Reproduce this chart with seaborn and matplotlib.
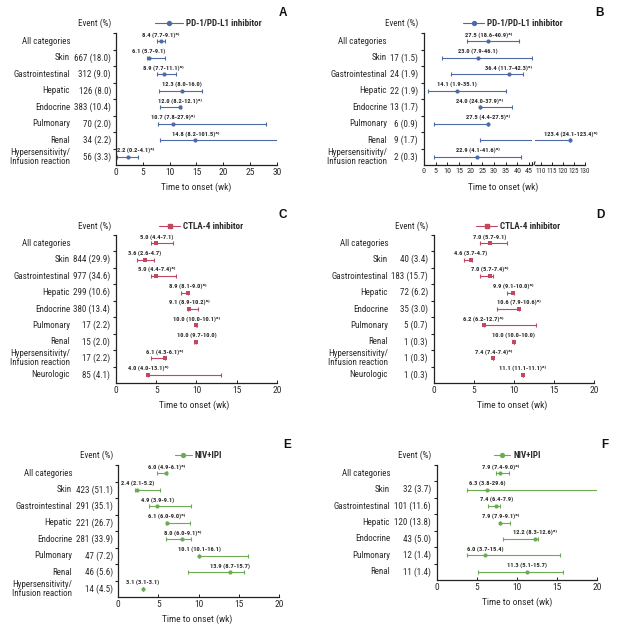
import numpy as np
import pandas as pd
import matplotlib.pyplot as plt
import seaborn as sns
from matplotlib.lines import Line2D
from matplotlib import font_manager

sns.set_theme(style='ticks')

# pick a narrow font if one is there, else shrink a normal one
names = {f.name: f for f in font_manager.fontManager.ttflist}
cond = [f for f in font_manager.fontManager.ttflist
        if f.name == 'DejaVu Sans' and 'condensed' in str(f.stretch)]
if 'Liberation Sans Narrow' in names:
    FAM, SC, STRETCH = 'Liberation Sans Narrow', 1.0, 'normal'
elif 'Roboto Condensed' in names:
    FAM, SC, STRETCH = 'Roboto Condensed', 0.95, 'normal'
elif cond:
    FAM, SC, STRETCH = 'DejaVu Sans', 0.85, 'condensed'
else:
    FAM, SC, STRETCH = 'Liberation Sans', 0.84, 'normal'
plt.rcParams['font.family'] = [FAM, 'DejaVu Sans']
plt.rcParams['font.stretch'] = STRETCH

W, H = 634, 635

# categories
cats8 = ['All categories', 'Skin', 'Gastrointestinal', 'Hepatic', 'Endocrine',
         'Pulmonary', 'Renal', 'Hypersensitivity/\nInfusion reaction']
cats9 = cats8 + ['Neurologic']
cats7 = cats8[:7]

# A: PD-1/PD-L1, grade any
a_events = ['', '667 (18.0)', '312 (9.0)', '126 (8.0)', '383 (10.4)', '70 (2.0)', '34 (2.2)', '56 (3.3)']
a_med = [8.4, 6.1, 8.9, 12.3, 12.0, 10.7, 14.8, 2.2]
a_lo = [7.7, 5.7, 7.7, 8.0, 8.2, 7.8, 8.2, 0.2]
a_hi = [9.1, 9.1, 11.1, 16.0, 12.1, 27.9, 101.5, 4.1]
a_sup = [1, 0, 1, 0, 1, 1, 1, 1]

# B: PD-1/PD-L1, grade >=3
b_events = ['', '17 (1.5)', '24 (1.9)', '22 (1.9)', '13 (1.7)', '6 (0.9)', '9 (1.7)', '2 (0.3)']
b_med = [27.5, 23.0, 36.4, 14.1, 24.0, 27.5, 123.4, 22.9]
b_lo = [18.6, 7.9, 11.7, 1.9, 24.0, 4.4, 24.1, 4.1]
b_hi = [40.9, 46.1, 42.3, 35.1, 37.9, 27.5, 123.4, 41.6]
b_sup = [1, 0, 1, 0, 1, 1, 1, 1]

# C: CTLA-4, any grade
c_events = ['', '844 (29.9)', '977 (34.6)', '299 (10.6)', '380 (13.4)', '17 (2.2)', '15 (2.0)', '17 (2.2)', '85 (4.1)']
c_med = [5.0, 3.6, 5.0, 8.9, 9.1, 10.0, 10.0, 6.1, 4.0]
c_lo = [4.4, 2.6, 4.4, 8.1, 8.9, 10.0, 9.7, 4.3, 4.0]
c_hi = [7.1, 4.7, 7.4, 9.0, 10.2, 10.1, 10.0, 6.1, 13.1]
c_sup = [0, 0, 1, 1, 1, 1, 0, 1, 1]

# D: CTLA-4, grade >=3
d_events = ['', '40 (3.4)', '183 (15.7)', '72 (6.2)', '35 (3.0)', '5 (0.7)', '1 (0.3)', '1 (0.3)', '1 (0.3)']
d_med = [7.0, 4.6, 7.0, 9.9, 10.6, 6.2, 10.0, 7.4, 11.1]
d_lo = [5.7, 3.7, 5.7, 9.1, 7.9, 6.2, 10.0, 7.4, 11.1]
d_hi = [9.1, 4.7, 7.4, 10.0, 10.6, 12.7, 10.0, 7.4, 11.1]
d_sup = [0, 0, 1, 1, 1, 1, 0, 1, 1]

# E: NIV+IPI, any grade
e_events = ['', '423 (51.1)', '291 (35.1)', '221 (26.7)', '281 (33.9)', '47 (7.2)', '46 (5.6)', '14 (4.5)']
e_med = [6.0, 2.4, 4.9, 6.1, 8.0, 10.1, 13.9, 3.1]
e_lo = [4.9, 2.1, 3.9, 6.0, 6.0, 10.1, 8.7, 3.1]
e_hi = [6.1, 5.2, 9.1, 9.0, 9.1, 16.1, 15.7, 3.1]
e_sup = [1, 0, 0, 1, 1, 0, 0, 0]

# F: NIV+IPI, grade >=3
f_events = ['', '32 (3.7)', '101 (11.6)', '120 (13.8)', '43 (5.0)', '12 (1.4)', '11 (1.4)']
f_med = [7.9, 6.3, 7.4, 7.9, 12.2, 6.0, 11.3]
f_lo = [7.4, 3.8, 6.4, 7.9, 8.3, 3.7, 5.1]
f_hi = [9.0, 29.6, 7.9, 9.1, 12.6, 15.4, 15.7]
f_sup = [1, 0, 0, 1, 1, 0, 0]

BLUE = '#4d6ca6'
RED = '#c24862'
GREEN = '#6dab52'
TXT = '#2b2b2b'

FS = 6.8 * SC      # row labels
FT = 7.2 * SC      # ticks / xlabel
FA = 4.9 * SC      # annotations

fig = plt.figure(figsize=(W / 100, H / 100), dpi=100)
fig.patch.set_facecolor('white')
renderer = fig.canvas.get_renderer()


def make_ax(left, top, right, bottom):
    return fig.add_axes([left / W, 1 - bottom / H, (right - left) / W, (bottom - top) / H])


def fx(px):
    return px / W


def fy(py):
    return 1 - py / H


def style_ax(ax, n, xlim, xticks, tick_fs=None):
    ax.set_facecolor('none')
    ax.set_xlim(*xlim)
    ax.set_ylim(n - 0.5, -0.5)
    ax.set_yticks(np.arange(n) - 0.5)
    ax.set_yticklabels([])
    ax.set_xticks(xticks)
    ax.set_xticklabels([str(t) for t in xticks], fontsize=tick_fs or FT, color=TXT)
    ax.tick_params(axis='y', direction='out', length=2.5, width=0.8, color='#222')
    ax.tick_params(axis='x', direction='in', length=2, width=0.7, color='#222', pad=2.5)
    ax.set_xlabel('')
    ax.set_ylabel('')
    ax.grid(False)
    sns.despine(ax=ax)
    for s in ['left', 'bottom']:
        ax.spines[s].set_color('#222')
        ax.spines[s].set_linewidth(0.9)


def draw_marks(ax, med, lo, hi, color, marker, show_pts=None):
    n = len(med)
    df = pd.DataFrame({'row': np.arange(n), 'med': med, 'lo': lo, 'hi': hi})
    ax.errorbar(df.med, df.row, xerr=[df.med - df.lo, df.hi - df.med], fmt='none',
                ecolor=color, elinewidth=0.8, capsize=1.5, capthick=0.8, zorder=2)
    pts = df if show_pts is None else df[show_pts]
    sns.scatterplot(data=pts, x='med', y='row', ax=ax, color=color, marker=marker,
                    s=9, linewidth=0, zorder=3, legend=False)


def annotate(ax, med, lo, hi, sup, show=None):
    ax_x0 = ax.get_window_extent(renderer).x0
    for i in range(len(med)):
        if show is not None and not show[i]:
            continue
        s = f'{med[i]:.1f} ({lo[i]:.1f}-{hi[i]:.1f})' + ('ᵃ⁾' if sup[i] else '')
        t = ax.annotate(s, xy=(med[i], i), xytext=(0, 6.5), textcoords='offset pixels',
                        ha='center', va='center', fontsize=FA, fontweight='bold',
                        color=TXT, annotation_clip=False)
        bb = t.get_window_extent(renderer)
        if bb.x0 < ax_x0 + 1:
            t.set_position((ax_x0 + 1 - bb.x0, 6.5))


def row_labels(ax, cats, events, width_px, cat_off, ev_off):
    tr = ax.get_yaxis_transform()
    for i, (c, e) in enumerate(zip(cats, events)):
        ax.text(-cat_off / width_px, i, c, transform=tr, ha='right', va='center',
                fontsize=FS, color=TXT, linespacing=1.0)
        if e:
            ax.text(-ev_off / width_px, i, e, transform=tr, ha='right', va='center',
                    fontsize=FS, color=TXT)


def header(ev_right, y, line_x0, line_x1, label, color, marker, letter, letter_x, letter_y):
    fig.text(fx(ev_right), fy(y), 'Event (%)', ha='right', va='center', fontsize=FS, color=TXT)
    fig.add_artist(Line2D([fx(line_x0), fx(line_x1)], [fy(y), fy(y)], color=color, lw=0.8))
    fig.add_artist(Line2D([fx((line_x0 + line_x1) / 2)], [fy(y)], color=color, marker=marker,
                          ms=2.8, mec=color, lw=0))
    fig.text(fx(line_x1 + 3), fy(y), label, ha='left', va='center', fontsize=FS,
             fontweight='bold', color=TXT)
    fig.text(fx(letter_x), fy(letter_y), letter, ha='center', va='center', fontsize=8.5,
             fontweight='bold', family=['Liberation Sans', 'DejaVu Sans'],
             fontstretch='normal', color='#111')


def xlabel(xc, y):
    fig.text(fx(xc), fy(y), 'Time to onset (wk)', ha='center', va='center',
             fontsize=FT, color=TXT)


ticks30 = [0, 5, 10, 15, 20, 25, 30]
ticks20 = [0, 5, 10, 15, 20]

# ---- Panel A
ax = make_ax(116, 33, 277, 165)
draw_marks(ax, a_med, a_lo, a_hi, BLUE, 'o')
style_ax(ax, 8, (0, 30), ticks30)
annotate(ax, a_med, a_lo, a_hi, a_sup)
row_labels(ax, cats8, a_events, 161, 46, 5)
header(111, 23, 155, 183, 'PD-1/PD-L1 inhibitor', BLUE, 'o', 'A', 283, 13)
xlabel(196, 187)

# ---- Panel B (broken axis)
ax1 = make_ax(424, 33, 531.8, 165)
ax2 = make_ax(535, 33, 585, 165)
in_first = [m < 46.2 for m in b_med]
in_second = [m > 107.3 for m in b_med]
draw_marks(ax1, b_med, b_lo, b_hi, BLUE, 'o', show_pts=in_first)
draw_marks(ax2, b_med, b_lo, b_hi, BLUE, 'o', show_pts=in_second)
style_ax(ax1, 8, (0, 46.2), [0, 5, 10, 15, 20, 25, 30, 35, 40, 45], tick_fs=FT * 0.86)
style_ax(ax2, 8, (107.3, 130), [110, 115, 120, 125, 130], tick_fs=FT * 0.74)
ax2.spines['left'].set_visible(False)
ax2.tick_params(axis='y', left=False)
annotate(ax1, b_med, b_lo, b_hi, b_sup, show=in_first)
annotate(ax2, b_med, b_lo, b_hi, b_sup, show=in_second)
row_labels(ax1, cats8, b_events, 107.8, 37, 6)
# break marks
ax1.plot([1.0, 1.0], [0, 0.025], transform=ax1.transAxes, color='#222', lw=0.8, clip_on=False)
ax2.plot([-0.02, 0.0], [0.0, 0.025], transform=ax2.transAxes, color='#222', lw=0.8, clip_on=False)
header(418, 23, 463, 484, 'PD-1/PD-L1 inhibitor', BLUE, 'o', 'B', 600, 13)
xlabel(503, 187)

# ---- Panel C
ax = make_ax(116, 235, 277, 383)
draw_marks(ax, c_med, c_lo, c_hi, RED, 's')
style_ax(ax, 9, (0, 20), ticks20)
annotate(ax, c_med, c_lo, c_hi, c_sup)
row_labels(ax, cats9, c_events, 161, 46, 6)
header(111, 226, 159, 180, 'CTLA-4 inhibitor', RED, 's', 'C', 283, 215)
xlabel(194, 405)

# ---- Panel D
ax = make_ax(434, 235, 594, 383)
draw_marks(ax, d_med, d_lo, d_hi, RED, 's')
style_ax(ax, 9, (0, 20), ticks20)
annotate(ax, d_med, d_lo, d_hi, d_sup)
row_labels(ax, cats9, d_events, 160, 46, 6)
header(428, 226, 476, 497, 'CTLA-4 inhibitor', RED, 's', 'D', 600, 215)
xlabel(512, 405)

# ---- Panel E
ax = make_ax(118, 465, 279, 597)
draw_marks(ax, e_med, e_lo, e_hi, GREEN, 'o')
style_ax(ax, 8, (0, 20), ticks20)
annotate(ax, e_med, e_lo, e_hi, e_sup)
row_labels(ax, cats8, e_events, 161, 46, 5)
header(113, 455, 175, 192, 'NIV+IPI', GREEN, 'o', 'E', 287, 445)
xlabel(197, 619)

# ---- Panel F
ax = make_ax(437, 465, 597, 580)
draw_marks(ax, f_med, f_lo, f_hi, GREEN, 'o')
style_ax(ax, 7, (0, 20), ticks20)
annotate(ax, f_med, f_lo, f_hi, f_sup)
row_labels(ax, cats7, f_events, 160, 47, 6)
header(431, 455, 494, 510, 'NIV+IPI', GREEN, 'o', 'F', 605, 445)
xlabel(517, 602)

fig.savefig('out.png', dpi=100, facecolor='white')
